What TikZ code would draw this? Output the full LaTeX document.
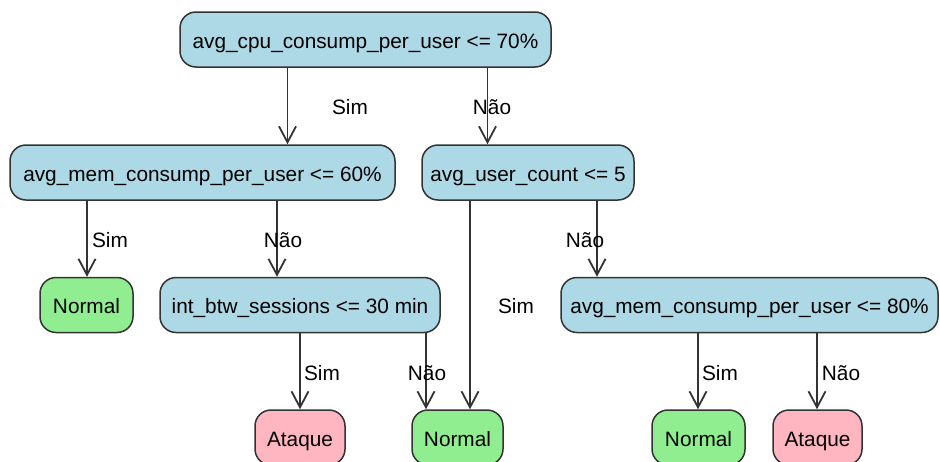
\documentclass[tikz,border=0pt]{standalone}
\usepackage{fontspec}
\setmainfont{Liberation Sans}
\usetikzlibrary{arrows.meta}
\definecolor{edgegray}{HTML}{333333}
\definecolor{testblue}{HTML}{ADD8E6}
\definecolor{normalgreen}{HTML}{90EE90}
\definecolor{attackpink}{HTML}{FFB6C1}
\tikzset{
  box/.style={draw=edgegray, line width=1.5pt, rounded corners=16pt,
    minimum height=55pt, inner sep=0pt, align=center,
    text height=17.5pt, text depth=0pt,
    font=\fontsize{20.8}{24}\selectfont},
  test/.style={box, fill=testblue},
  normalleaf/.style={box, fill=normalgreen},
  attackleaf/.style={box, fill=attackpink},
  arr/.style={draw=edgegray, line width=1.5pt,
    -{Straight Barb[length=16pt, width=17pt, line width=1.8pt]}},
  lbl/.style={font=\fontsize{20.8}{24}\selectfont, inner sep=0pt}
}
\begin{document}
\begin{tikzpicture}[x=1pt, y=-1pt]
  \useasboundingbox (0,0) rectangle (940,461);
  \clip (0,0) rectangle (940,461);
  \fill[white] (0,0) rectangle (940,461);

  % decision nodes
  \node[test, minimum width=371pt] (root)  at (365.5,39.5) {avg\_cpu\_consump\_per\_user <= 70\%};
  \node[test, minimum width=385pt] (mem60) at (202.5,172.5) {avg\_mem\_consump\_per\_user <= 60\%};
  \node[test, minimum width=212pt] (users) at (528,172.5) {avg\_user\_count <= 5};
  \node[test, minimum width=280pt] (intbtw) at (300,305) {int\_btw\_sessions <= 30 min};
  \node[test, minimum width=377pt] (mem80) at (749.5,305) {avg\_mem\_consump\_per\_user <= 80\%};

  % leaves
  \node[normalleaf, minimum width=93pt] (nA) at (86.5,305) {Normal};
  \node[attackleaf, minimum width=90pt] (aA) at (300,437.5) {Ataque};
  \node[normalleaf, minimum width=91pt] (nB) at (457.5,437.5) {Normal};
  \node[normalleaf, minimum width=93pt] (nC) at (698.5,437.5) {Normal};
  \node[attackleaf, minimum width=89pt] (aB) at (817.5,437.5) {Ataque};

  % branches
  \draw[arr] ([xshift=-78pt]root.south) -- ([xshift=-78pt]root.south |- mem60.north);
  \draw[arr] ([xshift=122pt]root.south) -- ([xshift=122pt]root.south |- users.north);
  \draw[arr] ([xshift=-115.5pt]mem60.south) -- ([xshift=-115.5pt]mem60.south |- nA.north);
  \draw[arr] ([xshift=74.5pt]mem60.south) -- ([xshift=74.5pt]mem60.south |- intbtw.north);
  \draw[arr] ([xshift=-58pt]users.south) -- ([xshift=-58pt]users.south |- nB.north);
  \draw[arr] ([xshift=69pt]users.south) -- ([xshift=69pt]users.south |- mem80.north);
  \draw[arr] (intbtw.south) -- (intbtw.south |- aA.north);
  \draw[arr] ([xshift=126pt]intbtw.south) -- ([xshift=126pt]intbtw.south |- nB.north);
  \draw[arr] ([xshift=-51.5pt]mem80.south) -- ([xshift=-51.5pt]mem80.south |- nC.north);
  \draw[arr] ([xshift=67.5pt]mem80.south) -- ([xshift=67.5pt]mem80.south |- aB.north);

  % branch labels
  \node[lbl] (l1)  at (350,107) {Sim};
  \node[lbl] (l2)  at (492,107) {Não};
  \node[lbl] (l3)  at (110,240) {Sim};
  \node[lbl] (l4)  at (283,240) {Não};
  \node[lbl] (l5)  at (585,240) {Não};
  \node[lbl] (l6)  at (516,306) {Sim};
  \node[lbl] (l7)  at (322,373) {Sim};
  \node[lbl] (l8)  at (427,373) {Não};
  \node[lbl] (l9)  at (720,373) {Sim};
  \node[lbl] (l10) at (841,373) {Não};
\end{tikzpicture}
\end{document}
